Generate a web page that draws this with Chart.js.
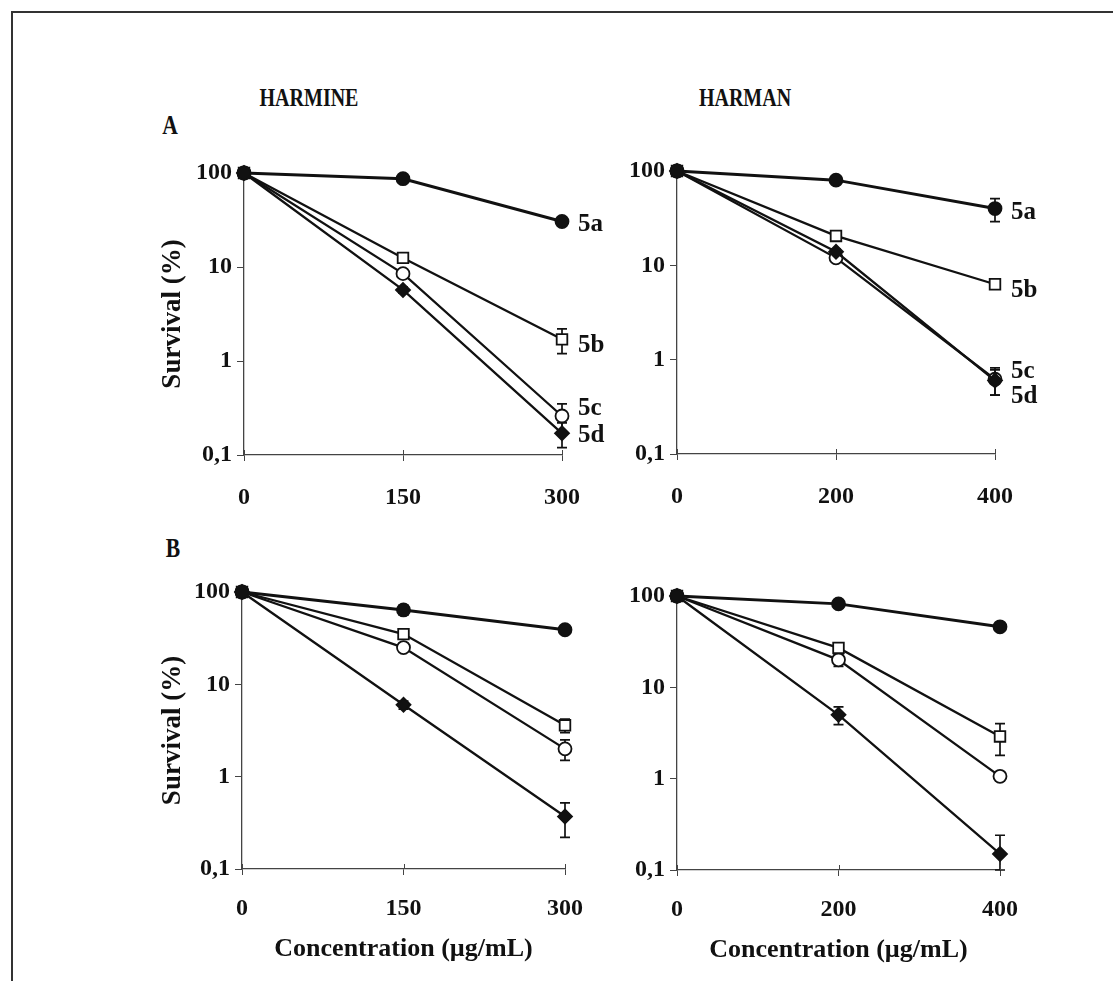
<!DOCTYPE html>
<html>
<head>
<meta charset="utf-8">
<title>Harmine / Harman survival</title>
<script src="https://cdn.jsdelivr.net/npm/chart.js@4.4.1/dist/chart.umd.min.js"></script>
<style>
  body { margin: 0; background: #fff; }
  #page { position: relative; width: 1113px; height: 981px; overflow: hidden;
          font-family: 'Liberation Serif', 'Times New Roman', serif; font-weight: bold; color: #111; }
  #page canvas { position: absolute; left: 0; top: 0; }
  .frame { position: absolute; left: 11px; top: 11px; width: 1110px; height: 980px;
           border-left: 2px solid #333; border-top: 2px solid #333; }
  .lbl { position: absolute; white-space: nowrap; line-height: 1; transform: translate(-50%, -50%) scale(0.8, 1); }
</style>
</head>
<body>
<div id="page">
  <div class="frame"></div>
  <div class="lbl" style="left:309px; top:97px; font-size:25px;">HARMINE</div>
  <div class="lbl" style="left:745px; top:97px; font-size:25px;">HARMAN</div>
  <div class="lbl" style="left:170px; top:125px; font-size:27px;">A</div>
  <div class="lbl" style="left:173px; top:548px; font-size:27px;">B</div>
  <canvas id="cA1" width="1113" height="981"></canvas>
  <canvas id="cA2" width="1113" height="981"></canvas>
  <canvas id="cB1" width="1113" height="981"></canvas>
  <canvas id="cB2" width="1113" height="981"></canvas>
</div>
<script>
// concentrations (µg/mL)
const harmineConc = [0, 150, 300];
const harmanConc = [0, 200, 400];
const compounds = ['5a', '5b', '5c', '5d'];
const yTickValues = [0.1, 1, 10, 100];
const yTickLabels = ['0,1', '1', '10', '100'];

// survival (%), one row per compound 5a..5d, and the error bar sizes
const harmineA = [[100, 87, 30.5], [100, 12.5, 1.7], [100, 8.5, 0.26], [100, 5.7, 0.17]];
const harmineAErr = [[0, 4, 2], [0, 1.2, 0.5], [0, 0.6, 0.09], [0, 0.4, 0.05]];
const harmanA = [[100, 80, 40], [100, 20.5, 6.3], [100, 12, 0.62], [100, 13.9, 0.6]];
const harmanAErr = [[0, 8, 11], [0, 2.5, 0.5], [0, 1, 0.2], [0, 1, 0.18]];
const harmineB = [[100, 64, 39], [100, 35, 3.6], [100, 25, 2.0], [100, 6.0, 0.37]];
const harmineBErr = [[0, 8, 3], [0, 3, 0.6], [0, 2, 0.5], [0, 0.6, 0.15]];
const harmanB = [[100, 82, 46], [100, 27, 2.9], [100, 20, 1.06], [100, 5.0, 0.15]];
const harmanBErr = [[0, 5, 4], [0, 2, 1.1], [0, 3, 0.12], [0, 1.1, 0.09]];

const INK = '#111';
const AXIS = '#444';
const serif = "'Liberation Serif', 'Times New Roman', serif";

// marker look per compound
const markerStyles = [
  { pointStyle: 'circle', radius: 6.5, fill: INK, width: 3, order: 0 },
  { pointStyle: 'rect', radius: 7.5, fill: '#fff', width: 2.3, order: 2 },
  { pointStyle: 'circle', radius: 6.5, fill: '#fff', width: 2.3, order: 3 },
  { pointStyle: 'rectRot', radius: 7, fill: INK, width: 2.3, order: 1 }
];

// where each plot area sits on the page
const panels = [
  { id: 'cA1', conc: harmineConc, values: harmineA, errors: harmineAErr,
    area: { l: 244, t: 173, r: 562, b: 455 }, yW: 91, xH: 75, yTitle: true, xTitle: false, tickPad: 22,
    labelDy: [3, 6, -7, 2] },
  { id: 'cA2', conc: harmanConc, values: harmanA, errors: harmanAErr,
    area: { l: 677, t: 171, r: 995, b: 454 }, yW: 77, xH: 75, yTitle: false, xTitle: false, tickPad: 22,
    labelDy: [4, 6, -8, 16] },
  { id: 'cB1', conc: harmineConc, values: harmineB, errors: harmineBErr,
    area: { l: 242, t: 592, r: 565, b: 869 }, yW: 89, xH: 100, yTitle: true, xTitle: true, tickPad: 19,
    labelDy: null },
  { id: 'cB2', conc: harmanConc, values: harmanB, errors: harmanBErr,
    area: { l: 677, t: 596, r: 1000, b: 870 }, yW: 77, xH: 100, yTitle: false, xTitle: true, tickPad: 19,
    labelDy: null }
];

// error bars, inner half of the x ticks, and the 5a..5d tags
const decorPlugin = {
  id: 'decor',
  beforeDatasetsDraw(chart) {
    const { ctx, scales: { x, y } } = chart;
    ctx.save();
    ctx.strokeStyle = INK;
    ctx.lineWidth = 1.7;
    chart.data.datasets.forEach(ds => {
      ds.data.forEach((pt, j) => {
        const e = ds.errors[j];
        if (!e) return;
        const px = x.getPixelForValue(pt.x);
        const top = y.getPixelForValue(pt.y + e);
        const bot = y.getPixelForValue(Math.max(pt.y - e, 0.1));
        ctx.beginPath();
        ctx.moveTo(px, top); ctx.lineTo(px, bot);
        ctx.moveTo(px - 5, top); ctx.lineTo(px + 5, top);
        ctx.moveTo(px - 5, bot); ctx.lineTo(px + 5, bot);
        ctx.stroke();
      });
    });
    ctx.strokeStyle = AXIS;
    ctx.lineWidth = 1;
    x.ticks.forEach(t => {
      const px = Math.round(x.getPixelForValue(t.value)) + 0.5;
      ctx.beginPath();
      ctx.moveTo(px, y.bottom - 5);
      ctx.lineTo(px, y.bottom);
      ctx.stroke();
    });
    ctx.restore();
  },
  afterDatasetsDraw(chart) {
    const { ctx, scales: { x, y } } = chart;
    ctx.save();
    ctx.fillStyle = INK;
    ctx.font = 'bold 25px ' + serif;
    ctx.textBaseline = 'middle';
    ctx.textAlign = 'left';
    chart.data.datasets.forEach(ds => {
      if (ds.labelDy == null) return;
      const last = ds.data[ds.data.length - 1];
      ctx.fillText(ds.label, x.right + 16, y.getPixelForValue(last.y) + ds.labelDy);
    });
    ctx.restore();
  }
};

function makeChart(p) {
  const datasets = p.values.map((vals, i) => {
    const st = markerStyles[i];
    return {
      label: compounds[i],
      data: p.conc.map((c, j) => ({ x: c, y: vals[j] })),
      errors: p.errors[i],
      labelDy: p.labelDy ? p.labelDy[i] : null,
      borderColor: INK,
      borderWidth: st.width,
      pointStyle: st.pointStyle,
      pointRadius: st.radius,
      pointBackgroundColor: st.fill,
      pointBorderColor: INK,
      pointBorderWidth: 1.8,
      tension: 0,
      clip: false,
      order: st.order
    };
  });

  const ctx = document.getElementById(p.id).getContext('2d');
  return new Chart(ctx, {
    type: 'line',
    data: { datasets: datasets },
    plugins: [decorPlugin],
    options: {
      responsive: false,
      animation: false,
      events: [],
      layout: {
        padding: {
          left: p.area.l - p.yW,
          top: p.area.t,
          right: 1113 - p.area.r,
          bottom: 981 - p.area.b - p.xH
        }
      },
      plugins: {
        legend: { display: false },
        tooltip: { enabled: false }
      },
      scales: {
        x: {
          type: 'linear',
          min: 0,
          max: p.conc[p.conc.length - 1],
          afterBuildTicks: s => { s.ticks = p.conc.map(v => ({ value: v })); },
          afterFit: s => { s.height = p.xH; },
          grid: { drawOnChartArea: false, drawTicks: true, tickLength: 6, color: AXIS, lineWidth: 1 },
          border: { display: true, color: AXIS, width: 1.3 },
          ticks: { padding: p.tickPad, color: INK, maxRotation: 0,
                   font: { family: serif, size: 24, weight: 'bold' } },
          title: { display: p.xTitle, text: 'Concentration (µg/mL)', color: INK,
                   padding: { top: 4, bottom: 4 },
                   font: { family: serif, size: 26, weight: 'bold' } }
        },
        y: {
          type: 'logarithmic',
          min: 0.1,
          max: 100,
          afterBuildTicks: s => { s.ticks = yTickValues.map(v => ({ value: v })); },
          afterFit: s => { s.width = p.yW; },
          grid: { drawOnChartArea: false, drawTicks: true, tickLength: 7, color: AXIS, lineWidth: 1 },
          border: { display: true, color: AXIS, width: 1.3 },
          ticks: {
            padding: 5, color: INK,
            font: { family: serif, size: 24, weight: 'bold' },
            callback: v => {
              const k = yTickValues.findIndex(t => Math.abs(t - v) < 1e-9);
              return k >= 0 ? yTickLabels[k] : '';
            }
          },
          title: { display: p.yTitle, text: 'Survival (%)', color: INK,
                   padding: { top: 4, bottom: 4 },
                   font: { family: serif, size: 27, weight: 'bold' } }
        }
      }
    }
  });
}

panels.forEach(makeChart);
</script>
</body>
</html>
